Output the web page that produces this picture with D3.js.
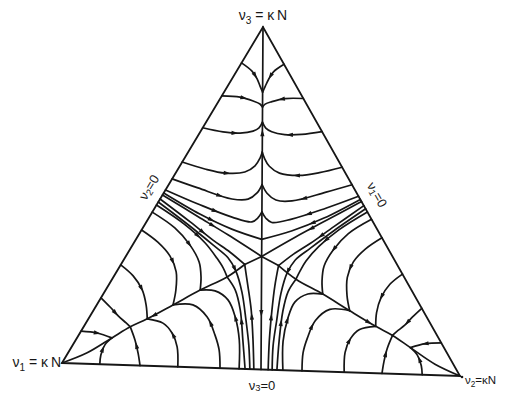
<!DOCTYPE html>
<html>
<head>
<meta charset="utf-8">
<script src="https://cdn.jsdelivr.net/npm/d3@7"></script>
<style>
  body { margin: 0; background: #fff; }
  text { font-family: "Liberation Sans", Arial, sans-serif; fill: #161616; }
</style>
</head>
<body>
<svg id="chart" width="505" height="399"></svg>
<script>
// every point is [v1, v2, v3] as a fraction of kN (v1 + v2 + v3 = 1)
// only the left half is listed, the right half is its mirror image (v1 <-> v2)

const corners = [[1, 0, 0], [0, 1, 0], [0, 0, 1]];

// the symmetry axis: apex -> upper saddle, centre -> upper saddle, centre -> v3=0 edge
const centreAxis = [
  [[0.31, 0.31, 0.38], [0, 0, 1]],
  [[0.335, 0.335, 0.33], [0.31, 0.31, 0.38]],
  [[0.335, 0.335, 0.33], [0.5, 0.5, 0]]
];

// separatrix to the v1 corner, link to the centre, and the branch down to the v3=0 edge
const separatrices = [
  [[0.39, 0.305, 0.305], [0.453, 0.28, 0.267], [0.541, 0.233, 0.226], [0.632, 0.188, 0.18],
   [0.719, 0.145, 0.137], [0.774, 0.115, 0.112], [0.836, 0.086, 0.078], [0.921, 0.047, 0.032], [1, 0, 0]],
  [[0.39, 0.305, 0.305], [0.335, 0.335, 0.33]],
  [[0.518, 0.482, 0], [0.478, 0.437, 0.085], [0.44, 0.388, 0.173], [0.411, 0.343, 0.245], [0.39, 0.305, 0.305]]
];

// fan of lines leaving the middle of the v2=0 edge
const bundle = [
  [[0.494, 0, 0.506], [0.432, 0.12, 0.448], [0.371, 0.221, 0.407], [0.31, 0.31, 0.38]],
  [[0.5, 0, 0.5], [0.44, 0.12, 0.44], [0.39, 0.22, 0.39], [0.335, 0.335, 0.33]],
  [[0.512, 0, 0.488], [0.469, 0.108, 0.424], [0.436, 0.191, 0.373], [0.41, 0.25, 0.34], [0.39, 0.305, 0.305]],
  [[0.521, 0, 0.479], [0.475, 0.113, 0.412], [0.443, 0.198, 0.359], [0.423, 0.254, 0.323], [0.422, 0.293, 0.285],
   [0.437, 0.339, 0.224], [0.467, 0.39, 0.143], [0.495, 0.434, 0.07], [0.528, 0.472, 0]]
];

// trajectories of the apex sector, from the v2=0 edge into the axis
const topFamily = [
  [[0.107, 0, 0.893], [0.092, 0.038, 0.87], [0.091, 0.062, 0.848], [0.093, 0.08, 0.827], [0.095, 0.095, 0.81]],
  [[0.205, 0, 0.795], [0.16, 0.047, 0.793], [0.132, 0.085, 0.783], [0.119, 0.106, 0.775], [0.117, 0.117, 0.766]],
  [[0.3, 0, 0.7], [0.254, 0.056, 0.69], [0.212, 0.1, 0.688], [0.176, 0.129, 0.695], [0.156, 0.139, 0.705], [0.139, 0.139, 0.722]],
  [[0.402, 0, 0.598], [0.354, 0.066, 0.58], [0.308, 0.122, 0.57], [0.256, 0.169, 0.575], [0.221, 0.185, 0.594],
   [0.197, 0.186, 0.617], [0.1825, 0.1825, 0.635]],
  [[0.452, 0, 0.548], [0.399, 0.077, 0.524], [0.328, 0.177, 0.495], [0.287, 0.217, 0.496], [0.255, 0.23, 0.515], [0.23, 0.23, 0.54]],
  [[0.485, 0, 0.515], [0.422, 0.101, 0.477], [0.354, 0.204, 0.442], [0.31, 0.26, 0.43], [0.289, 0.269, 0.442], [0.27, 0.27, 0.46]]
];

// v1 corner sector: branches from the v2=0 edge down to the separatrix
const leftUpper = [
  [[0.905, 0, 0.095], [0.867, 0.042, 0.091], [0.836, 0.086, 0.078]],
  [[0.806, 0, 0.194], [0.796, 0.036, 0.168], [0.789, 0.069, 0.143], [0.778, 0.099, 0.123], [0.774, 0.115, 0.112]],
  [[0.708, 0, 0.292], [0.692, 0.047, 0.261], [0.69, 0.09, 0.221], [0.701, 0.122, 0.177], [0.719, 0.145, 0.137]],
  [[0.604, 0, 0.396], [0.58, 0.058, 0.362], [0.569, 0.108, 0.323], [0.577, 0.147, 0.277], [0.603, 0.173, 0.224], [0.632, 0.188, 0.18]],
  [[0.551, 0, 0.449], [0.515, 0.079, 0.405], [0.502, 0.141, 0.357], [0.503, 0.189, 0.308], [0.52, 0.216, 0.264], [0.541, 0.233, 0.226]],
  [[0.53, 0, 0.47], [0.486, 0.1, 0.415], [0.461, 0.176, 0.364], [0.451, 0.227, 0.321], [0.451, 0.257, 0.293], [0.453, 0.28, 0.267]]
];

// ... and branches from the v3=0 edge up to the same points
const leftLower = [
  [[0.905, 0.095, 0], [0.889, 0.084, 0.027], [0.864, 0.079, 0.057], [0.836, 0.086, 0.078]],
  [[0.804, 0.196, 0], [0.791, 0.173, 0.036], [0.78, 0.146, 0.074], [0.774, 0.115, 0.112]],
  [[0.709, 0.291, 0], [0.682, 0.26, 0.058], [0.675, 0.227, 0.098], [0.684, 0.19, 0.126], [0.719, 0.145, 0.137]],
  [[0.603, 0.397, 0], [0.579, 0.368, 0.053], [0.568, 0.336, 0.096], [0.562, 0.29, 0.148], [0.581, 0.237, 0.182], [0.632, 0.188, 0.18]],
  [[0.555, 0.445, 0], [0.513, 0.403, 0.084], [0.491, 0.359, 0.151], [0.484, 0.316, 0.2], [0.504, 0.271, 0.225], [0.541, 0.233, 0.226]],
  [[0.54, 0.46, 0], [0.503, 0.412, 0.084], [0.468, 0.361, 0.172], [0.452, 0.319, 0.23], [0.453, 0.28, 0.267]]
];

// corner and edge labels
const cornerLabels = [
  { at: [0, 0, 1], sub: "3", tail: " = κ\u2009N" },
  { at: [1, 0, 0], sub: "1", tail: " = κ\u2009N" },
  { at: [0, 1, 0], sub: "2", tail: "=κN" }
];
const edgeLabels = [
  { at: [0.5, 0.5, 0], sub: "3", tail: "=0" },
  { at: [0.5, 0, 0.5], sub: "2", tail: "=0" },
  { at: [0, 0.5, 0.5], sub: "1", tail: "=0" }
];

//////////////////////////////////////////////////////////////////////////////

const svg = d3.select("#chart");
const ink = "#161616";

// the printed triangle is a little tilted: the right corner sits lower than the left one
const APEX_U = 0.505, TILT = 13;
const x = d3.scaleLinear().domain([0, 1]).range([62, 460]);
const y = d3.scaleLinear().domain([0, 1]).range([363, 20.4]);

function project(p) {
  const u = p[1] + APEX_U * p[2];
  return [x(u), y(p[2]) + TILT * u];
}
const mirror = p => [p[1], p[0], p[2]];

const smooth = d3.line()
  .x(d => project(d)[0])
  .y(d => project(d)[1])
  .curve(d3.curveCatmullRom.alpha(0.5));
const straight = d3.line()
  .x(d => project(d)[0])
  .y(d => project(d)[1]);

const leftHalf = [].concat(topFamily, leftUpper, leftLower, bundle, separatrices);
const curves = leftHalf.concat(leftHalf.map(c => c.map(mirror)), centreAxis);

// frame
svg.append("path")
  .attr("d", straight(corners) + "Z")
  .attr("fill", "none")
  .attr("stroke", ink)
  .attr("stroke-width", 1.8)
  .attr("stroke-linejoin", "miter");

const lines = svg.append("g")
  .attr("fill", "none")
  .attr("stroke", ink)
  .attr("stroke-width", 1.7)
  .attr("stroke-linecap", "round")
  .attr("stroke-linejoin", "round");
const heads = svg.append("g").attr("fill", ink);

curves.forEach(function(c) {
  const path = lines.append("path").attr("d", smooth(c));
  const node = path.node(), len = node.getTotalLength();
  if (len < 25) return;
  // one small arrow half way, pointing along the flow
  const a = node.getPointAtLength(len * 0.5 - 2),
        b = node.getPointAtLength(len * 0.5 + 2);
  const angle = Math.atan2(b.y - a.y, b.x - a.x) * 180 / Math.PI;
  heads.append("path")
    .attr("d", "M4,0L-3,-2.1L-3,2.1Z")
    .attr("transform", `translate(${(a.x + b.x) / 2},${(a.y + b.y) / 2}) rotate(${angle})`);
});

// dot at the v2 corner
svg.append("circle")
  .attr("cx", project(corners[1])[0] + 2)
  .attr("cy", project(corners[1])[1] + 1)
  .attr("r", 1.3)
  .attr("fill", ink);

function nuLabel(sel, d, size) {
  sel.attr("font-size", size);
  sel.append("tspan").text("ν");
  sel.append("tspan").attr("dy", size * 0.3).attr("font-size", size * 0.72).text(d.sub);
  sel.append("tspan").attr("dy", -size * 0.3).text(d.tail);
}

// corners (the v2 one is kept small so it fits inside the page)
const cornerPos = [
  { dx: 0, dy: -7, anchor: "middle", size: 14 },
  { dx: -1, dy: 4, anchor: "end", size: 14 },
  { dx: 5, dy: 8, anchor: "start", size: 11.5 }
];
cornerLabels.forEach(function(d, i) {
  const p = project(d.at), o = cornerPos[i];
  svg.append("text")
    .attr("x", p[0] + o.dx)
    .attr("y", p[1] + o.dy)
    .attr("text-anchor", o.anchor)
    .call(nuLabel, d, o.size);
});

// edges: the v3=0 label below the base, the other two turned along their edge
const edgePos = [
  { dx: 1, dy: 15, rot: 0 },
  { dx: -14, dy: -8, rot: -59 },
  { dx: 16, dy: -7, rot: 60 }
];
edgeLabels.forEach(function(d, i) {
  const p = project(d.at), o = edgePos[i];
  svg.append("text")
    .attr("text-anchor", "middle")
    .attr("dominant-baseline", "central")
    .attr("transform", `translate(${p[0] + o.dx},${p[1] + o.dy}) rotate(${o.rot})`)
    .call(nuLabel, d, 13);
});
</script>
</body>
</html>
